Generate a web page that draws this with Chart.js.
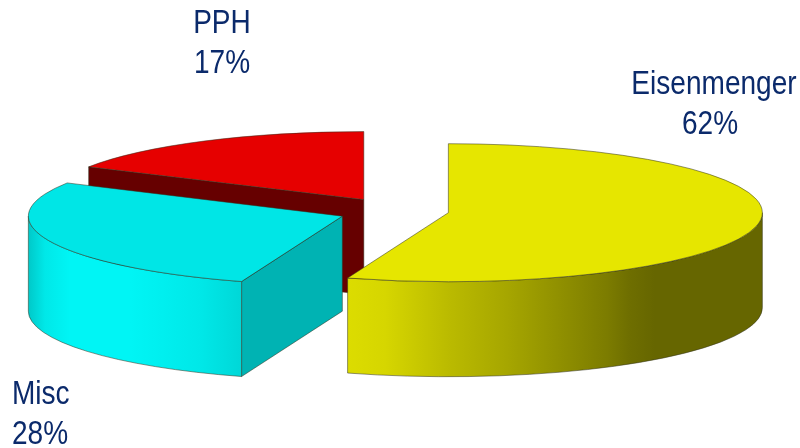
<!DOCTYPE html>
<html lang="en">
<head>
  <meta charset="UTF-8" />
  <title>Pie chart - Eisenmenger, Misc, PPH</title>
  <script src="https://cdn.jsdelivr.net/npm/chart.js"></script>
  <style>
    body { margin: 0; padding: 0; background: #fff; }
    canvas { display: block; }
  </style>
</head>
<body>
  <canvas id="grafico" width="800" height="448"></canvas>

  <script>
    const categorias = ['Eisenmenger', 'Misc', 'PPH'];
    // wedge sizes as drawn in the picture (the printed 62% does not match its wedge)
    const valores = [55.2, 27.8, 17];
    const etiquetas = ['62%', '28%', '17%'];

    const coloresCara = ['#e6e600', '#00e6e6', '#e60000'];
    const coloresCorte = ['#8a8a00', '#00b3b3', '#660000'];
    const gradientes = [
      [[348, '#dcdc00'], [385, '#d6d600'], [450, '#baba00'], [507, '#a6a600'], [607, '#7c7c00'], [630, '#6e6e00'], [655, '#666600'], [762, '#666600']],
      [[28, '#00c8c8'], [45, '#00e8e8'], [70, '#00f5f5'], [130, '#00f5f5'], [200, '#00e8e8'], [240, '#00d8d8']],
      [[90, '#660000'], [364, '#660000']]
    ];

    // pie geometry on screen
    const centroX = 402, centroY = 210;
    const radioX = 314, alto = 95;
    const radioY = [69, 69, 68];
    const separacion = [47, 64, 75];
    const ajusteY = [1, 1, 4];

    // text position: x, baseline of the name, baseline of the percent, align
    const posTexto = [
      { x: 714, y1: 94, x2: 710, y2: 134, align: 'center' },
      { x: 12, y1: 404, x2: 12, y2: 444, align: 'left' },
      { x: 222, y1: 33, x2: 222, y2: 73, align: 'center' }
    ];

    function gradienteX(ctx, i) {
      const stops = gradientes[i];
      const x0 = stops[0][0], x1 = stops[stops.length - 1][0];
      const g = ctx.createLinearGradient(x0, 0, x1, 0);
      stops.forEach(s => g.addColorStop((s[0] - x0) / (x1 - x0), s[1]));
      return g;
    }

    // side wall and cut faces, then the top comes from the library's own arc
    function dibujarPorcion(ctx, arc, i) {
      const ini = arc.startAngle, fin = arc.endAngle, medio = (ini + fin) / 2;
      const ry = radioY[i];
      const cx = centroX + Math.cos(medio) * separacion[i];
      const cy = centroY + Math.sin(medio) * separacion[i] * 70 / radioX + ajusteY[i];
      const linea = 'rgba(50,50,30,0.65)';

      ctx.save();
      ctx.lineWidth = 0.8;
      ctx.strokeStyle = linea;

      const cara = (a) => {
        const px = cx + Math.cos(a) * radioX, py = cy + Math.sin(a) * ry;
        ctx.beginPath();
        ctx.moveTo(cx, cy);
        ctx.lineTo(px, py);
        ctx.lineTo(px, py + alto);
        ctx.lineTo(cx, cy + alto);
        ctx.closePath();
        ctx.fillStyle = coloresCorte[i];
        ctx.fill();
        ctx.stroke();
      };
      if (Math.cos(ini) < -0.01) cara(ini);
      if (Math.cos(fin) > 0.01) cara(fin);

      const a0 = Math.max(ini, 0), a1 = Math.min(fin, Math.PI);
      if (a1 > a0) {
        ctx.beginPath();
        ctx.ellipse(cx, cy, radioX, ry, 0, a0, a1);
        ctx.ellipse(cx, cy + alto, radioX, ry, 0, a1, a0, true);
        ctx.closePath();
        ctx.fillStyle = gradienteX(ctx, i);
        ctx.fill();
        ctx.stroke();
      }

      // top face
      ctx.save();
      ctx.translate(cx, cy);
      ctx.scale(radioX / arc.outerRadius, ry / arc.outerRadius);
      ctx.translate(-arc.x, -arc.y);
      arc.draw(ctx);
      ctx.restore();

      ctx.beginPath();
      ctx.moveTo(cx, cy);
      ctx.ellipse(cx, cy, radioX, ry, 0, ini, fin);
      ctx.closePath();
      ctx.stroke();
      ctx.restore();
    }

    const pastel3d = {
      id: 'pastel3d',
      beforeDatasetDraw(chart, args) {
        const arcos = chart.getDatasetMeta(args.index).data;
        for (let i = arcos.length - 1; i >= 0; i--) {
          dibujarPorcion(chart.ctx, arcos[i], i);
        }
        return false;
      },
      afterDraw(chart) {
        const ctx = chart.ctx;
        const k = 0.85;
        ctx.save();
        ctx.fillStyle = '#0b2a6b';
        ctx.font = '33px "Liberation Sans", sans-serif';
        categorias.forEach((nombre, i) => {
          const p = posTexto[i];
          ctx.textAlign = p.align;
          ctx.save();
          ctx.translate(p.x, p.y1);
          ctx.scale(k, 1);
          ctx.fillText(nombre, 0, 0);
          ctx.restore();
          ctx.save();
          ctx.translate(p.x2, p.y2);
          ctx.scale(k, 1);
          ctx.fillText(etiquetas[i], 0, 0);
          ctx.restore();
        });
        ctx.restore();
      }
    };

    new Chart(document.getElementById('grafico'), {
      type: 'pie',
      data: {
        labels: categorias,
        datasets: [{
          data: valores,
          backgroundColor: coloresCara,
          borderWidth: 0
        }]
      },
      options: {
        responsive: false,
        animation: false,
        radius: 157,
        events: [],
        plugins: {
          legend: { display: false },
          tooltip: { enabled: false }
        }
      },
      plugins: [pastel3d]
    });
  </script>
</body>
</html>
